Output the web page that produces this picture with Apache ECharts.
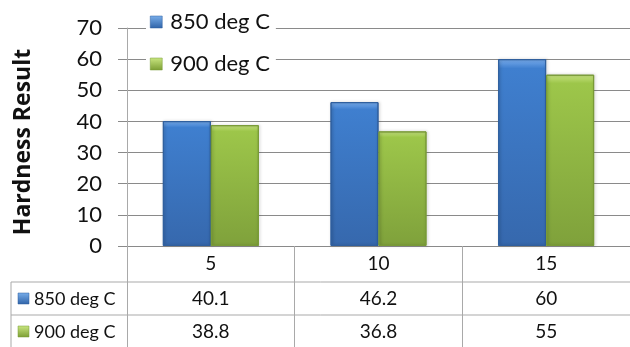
<!DOCTYPE html>
<html>
<head>
<meta charset="utf-8">
<script src="https://cdn.jsdelivr.net/npm/echarts@6/dist/echarts.min.js"></script>
<style>
  html, body { margin: 0; padding: 0; background: #fff; }
  #chart { width: 630px; height: 347px; }
</style>
</head>
<body>
<div id="chart"></div>
<script>
// Hardness by holding time for two austenitising temperatures
const categories = ['5', '10', '15'];
const seriesNames = ['850 deg C', '900 deg C'];
const values850 = [40.1, 46.2, 60];
const values900 = [38.8, 36.8, 55];
const yTicks = { min: 0, max: 70, interval: 10 };

const FONT = 'Lato, "Open Sans", sans-serif';
const TITLE_FONT = '"Open Sans", "Noto Sans", sans-serif';
const GRID_LINE = '#8a8a8a';
const TABLE_LINE = '#a9a9a9';

function grad(top, mid, bottom) {
  return new echarts.graphic.LinearGradient(0, 0, 0, 1, [
    { offset: 0, color: top },
    { offset: 0.05, color: mid },
    { offset: 1, color: bottom }
  ]);
}
const blueFill = grad('#78acec', '#3f7fcf', '#3668ad');
const greenFill = grad('#c8e482', '#9dc64a', '#7fa13b');
const keyBlue = new echarts.graphic.LinearGradient(0, 0, 0, 1, [
  { offset: 0, color: '#79aeea' }, { offset: 1, color: '#2f63a8' }
]);
const keyGreen = new echarts.graphic.LinearGradient(0, 0, 0, 1, [
  { offset: 0, color: '#c9e680' }, { offset: 1, color: '#7c9e34' }
]);

const chart = echarts.init(document.getElementById('chart'));

const option = {
  animation: false,
  backgroundColor: '#ffffff',
  textStyle: { fontFamily: FONT },
  grid: { left: 127, top: 28, width: 505, height: 218 },
  legend: {
    orient: 'vertical',
    left: 146,
    top: 9,
    itemWidth: 12,
    itemHeight: 12,
    itemGap: 20,
    padding: [2, 6, 2, 4],
    backgroundColor: '#ffffff',
    icon: 'rect',
    textStyle: { fontFamily: FONT, fontSize: 22, color: '#111', padding: [0, 0, 0, 3] },
    data: [
      { name: seriesNames[0], itemStyle: { color: keyBlue, borderColor: '#2f5f9e', borderWidth: 0.5 } },
      { name: seriesNames[1], itemStyle: { color: keyGreen, borderColor: '#779a35', borderWidth: 0.5 } }
    ]
  },
  xAxis: {
    type: 'category',
    data: categories,
    axisLine: { show: true, lineStyle: { color: GRID_LINE, width: 1 } },
    axisTick: { show: true, length: 101, lineStyle: { color: TABLE_LINE } },
    axisLabel: { fontFamily: FONT, fontSize: 19, color: '#111', margin: 8 }
  },
  yAxis: {
    type: 'value',
    min: yTicks.min,
    max: yTicks.max,
    interval: yTicks.interval,
    axisLine: { show: true, lineStyle: { color: TABLE_LINE } },
    axisTick: { show: true, length: 9, lineStyle: { color: GRID_LINE } },
    axisLabel: { fontFamily: FONT, fontSize: 22, color: '#111', margin: 25 },
    splitLine: { lineStyle: { color: GRID_LINE, width: 1 } }
  },
  series: [
    {
      name: seriesNames[0],
      type: 'bar',
      data: values850,
      barWidth: 48,
      barGap: '0%',
      itemStyle: { color: blueFill, borderColor: '#2f5f9e', borderWidth: 1,
        shadowColor: 'rgba(0,0,0,0.25)', shadowBlur: 3, shadowOffsetX: 1 }
    },
    {
      name: seriesNames[1],
      type: 'bar',
      data: values900,
      barWidth: 48,
      itemStyle: { color: greenFill, borderColor: '#789a36', borderWidth: 1,
        shadowColor: 'rgba(0,0,0,0.25)', shadowBlur: 3, shadowOffsetX: 1 }
    }
  ]
};

chart.setOption(option);

// Data table below the category axis, positioned from the axis scale
const axisY = chart.convertToPixel({ yAxisIndex: 0 }, 0);
const row1 = axisY + 36;   // line above first value row
const row2 = row1 + 33;    // line between value rows
const tableLeft = 11;
const tableRight = 630;
const graphics = [
  { type: 'line', shape: { x1: tableLeft, y1: row1, x2: tableRight, y2: row1 }, style: { stroke: TABLE_LINE, lineWidth: 1 } },
  { type: 'line', shape: { x1: tableLeft, y1: row2, x2: tableRight, y2: row2 }, style: { stroke: TABLE_LINE, lineWidth: 1 } },
  { type: 'line', shape: { x1: tableLeft, y1: row1, x2: tableLeft, y2: 347 }, style: { stroke: TABLE_LINE, lineWidth: 1 } },
  // Y axis title
  {
    type: 'text', x: 23, y: 142, rotation: Math.PI / 2,
    style: { text: 'Hardness Result', font: 'bold 23px ' + TITLE_FONT, fill: '#111',
      textAlign: 'center', textVerticalAlign: 'middle' }
  }
];
const rows = [
  { name: seriesNames[0], vals: values850, key: keyBlue, edge: '#2f5f9e', y: row1 + 17 },
  { name: seriesNames[1], vals: values900, key: keyGreen, edge: '#779a35', y: row2 + 17 }
];
rows.forEach(function (r) {
  graphics.push({ type: 'rect', shape: { x: 18, y: r.y - 6, width: 11, height: 11 },
    style: { fill: r.key, stroke: r.edge, lineWidth: 0.5 } });
  graphics.push({ type: 'text', x: 34, y: r.y,
    style: { text: r.name, font: '18px ' + FONT, fill: '#111', textVerticalAlign: 'middle' } });
  r.vals.forEach(function (v, i) {
    const x = chart.convertToPixel({ xAxisIndex: 0 }, categories[i]);
    graphics.push({ type: 'text', x: x, y: r.y,
      style: { text: String(v), font: '19px ' + FONT, fill: '#111',
        textAlign: 'center', textVerticalAlign: 'middle' } });
  });
});
chart.setOption({ graphic: graphics });
</script>
</body>
</html>
